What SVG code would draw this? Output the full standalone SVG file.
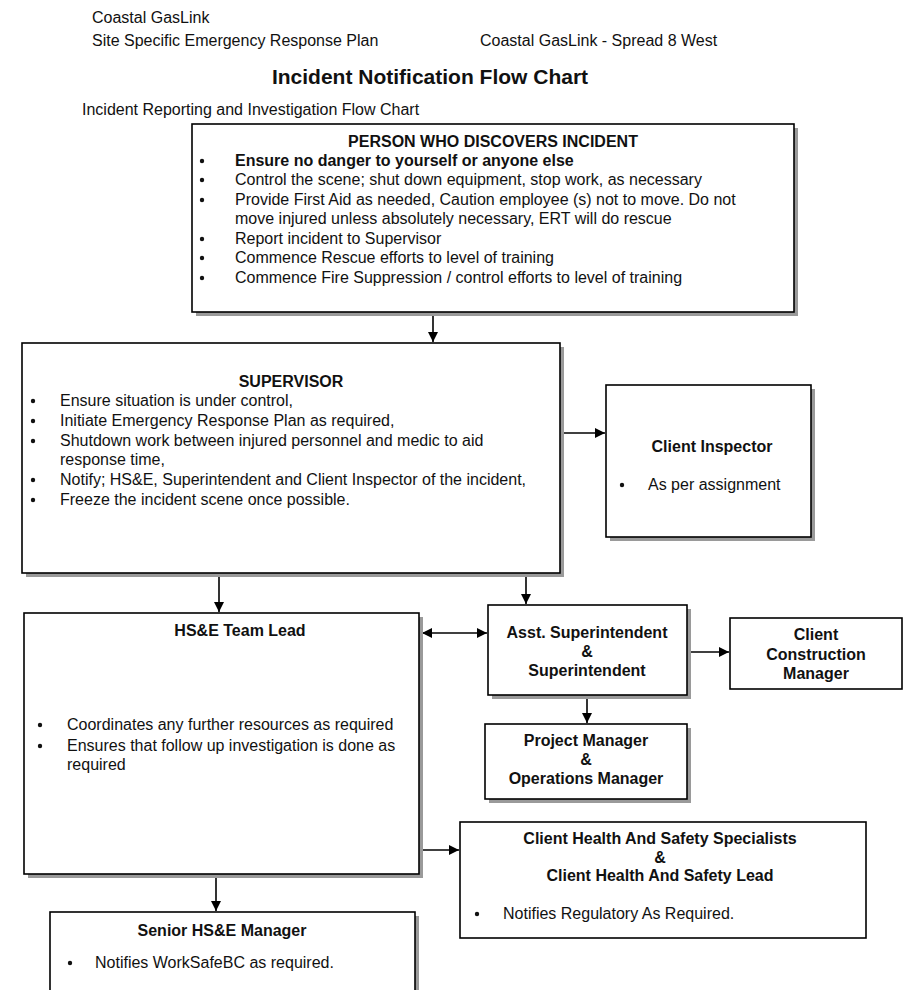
<svg xmlns="http://www.w3.org/2000/svg" width="903" height="990" viewBox="0 0 903 990">
<defs>
<marker id="ah" viewBox="0 0 10 10" refX="10" refY="5" markerWidth="10" markerHeight="10" markerUnits="userSpaceOnUse" orient="auto-start-reverse">
<path d="M0,0 L10,5 L0,10 z" fill="#000"/>
</marker>
</defs>
<style>
text{font-family:"Liberation Sans",Arial,sans-serif;font-size:16px;fill:#111}
.b{font-weight:bold}
.t{font-size:21px;font-weight:bold}
.c{text-anchor:middle}
.box{fill:#fff;stroke:#000;stroke-width:1.6}
.sh{fill:#9a9a9a}
.ln{stroke:#000;stroke-width:1.6;fill:none;marker-end:url(#ah)}
.dot{fill:#111}
</style>
<rect width="903" height="990" fill="#fff"/>
<g id="header">
<text x="92" y="23">Coastal GasLink</text>
<text x="92" y="46">Site Specific Emergency Response Plan</text>
<text x="480" y="46">Coastal GasLink - Spread 8 West</text>
<text class="t c" x="430" y="84">Incident Notification Flow Chart</text>
<text x="82" y="115">Incident Reporting and Investigation Flow Chart</text>
</g>
<g id="connectors">
<line class="ln" x1="433" y1="315" x2="433" y2="342"/>
<line class="ln" x1="562" y1="433" x2="605" y2="433"/>
<line class="ln" x1="219" y1="576" x2="219" y2="612"/>
<line class="ln" x1="526" y1="576" x2="526" y2="604"/>
<line class="ln" x1="422" y1="633" x2="487" y2="633" style="marker-start:url(#ah)"/>
<line class="ln" x1="689" y1="652" x2="729" y2="652"/>
<line class="ln" x1="587" y1="697" x2="587" y2="723"/>
<line class="ln" x1="422" y1="850" x2="459" y2="850"/>
<line class="ln" x1="216" y1="877" x2="216" y2="911"/>
</g>
<g id="person">
<rect class="sh" x="196" y="128" width="602" height="188"/>
<rect class="box" x="192" y="124" width="602" height="188"/>
<text class="b c" x="493" y="147">PERSON WHO DISCOVERS INCIDENT</text>
<circle class="dot" cx="202" cy="161" r="2.2"/><text class="b" x="235" y="166">Ensure no danger to yourself or anyone else</text>
<circle class="dot" cx="202" cy="180" r="2.2"/><text x="235" y="185">Control the scene; shut down equipment, stop work, as necessary</text>
<circle class="dot" cx="202" cy="200" r="2.2"/><text x="235" y="205">Provide First Aid as needed, Caution employee (s) not to move.  Do not</text>
<text x="235" y="224">move injured unless absolutely necessary, ERT will do rescue</text>
<circle class="dot" cx="202" cy="239" r="2.2"/><text x="235" y="244">Report incident to Supervisor</text>
<circle class="dot" cx="202" cy="258" r="2.2"/><text x="235" y="263">Commence Rescue efforts to level of training</text>
<circle class="dot" cx="202" cy="278" r="2.2"/><text x="235" y="283">Commence Fire Suppression / control efforts to level of training</text>
</g>
<g id="supervisor">
<rect class="sh" x="26" y="347" width="538" height="230"/>
<rect class="box" x="22" y="343" width="538" height="230"/>
<text class="b c" x="291" y="387">SUPERVISOR</text>
<circle class="dot" cx="33" cy="401" r="2.2"/><text x="60" y="406">Ensure situation is under control,</text>
<circle class="dot" cx="33" cy="421" r="2.2"/><text x="60" y="426">Initiate Emergency Response Plan as required,</text>
<circle class="dot" cx="33" cy="441" r="2.2"/><text x="60" y="446">Shutdown work between injured personnel and medic to aid</text>
<text x="60" y="465">response time,</text>
<circle class="dot" cx="33" cy="480" r="2.2"/><text x="60" y="485">Notify; HS&amp;E, Superintendent and Client Inspector of the incident,</text>
<circle class="dot" cx="33" cy="500" r="2.2"/><text x="60" y="505">Freeze the incident scene once possible.</text>
</g>
<g id="client-inspector">
<rect class="sh" x="610" y="389" width="205" height="152"/>
<rect class="box" x="606" y="385" width="205" height="152"/>
<text class="b c" x="712" y="452">Client Inspector</text>
<circle class="dot" cx="622" cy="485" r="2.2"/><text x="648" y="490">As per assignment</text>
</g>
<g id="hse-lead">
<rect class="sh" x="28" y="617" width="395" height="261"/>
<rect class="box" x="24" y="613" width="395" height="261"/>
<text class="b c" x="240" y="636">HS&amp;E Team Lead</text>
<circle class="dot" cx="40" cy="725" r="2.2"/><text x="67" y="730">Coordinates any further resources as required</text>
<circle class="dot" cx="40" cy="746" r="2.2"/><text x="67" y="751">Ensures that follow up investigation is done as</text>
<text x="67" y="770">required</text>
</g>
<g id="asst-superintendent">
<rect class="sh" x="492" y="609" width="199" height="90"/>
<rect class="box" x="488" y="605" width="199" height="90"/>
<text class="b c" x="587" y="638">Asst. Superintendent</text>
<text class="b c" x="587" y="657">&amp;</text>
<text class="b c" x="587" y="676">Superintendent</text>
</g>
<g id="client-construction">
<rect class="box" x="730" y="618" width="172" height="71"/>
<text class="b c" x="816" y="640">Client</text>
<text class="b c" x="816" y="660">Construction</text>
<text class="b c" x="816" y="679">Manager</text>
</g>
<g id="project-manager">
<rect class="sh" x="489" y="728" width="202" height="75"/>
<rect class="box" x="485" y="724" width="202" height="75"/>
<text class="b c" x="586" y="746">Project Manager</text>
<text class="b c" x="586" y="765">&amp;</text>
<text class="b c" x="586" y="784">Operations Manager</text>
</g>
<g id="client-hs">
<rect class="box" x="460" y="822" width="406" height="116"/>
<text class="b c" x="660" y="844">Client Health And Safety Specialists</text>
<text class="b c" x="660" y="863">&amp;</text>
<text class="b c" x="660" y="881">Client Health And Safety Lead</text>
<circle class="dot" cx="477" cy="914" r="2.2"/><text x="503" y="919">Notifies Regulatory As Required.</text>
</g>
<g id="senior-hse">
<rect class="sh" x="54" y="916" width="365" height="80"/>
<rect class="box" x="50" y="912" width="365" height="80"/>
<text class="b c" x="222" y="936">Senior HS&amp;E Manager</text>
<circle class="dot" cx="70" cy="963" r="2.2"/><text x="95" y="968">Notifies WorkSafeBC as required.</text>
</g>
</svg>
